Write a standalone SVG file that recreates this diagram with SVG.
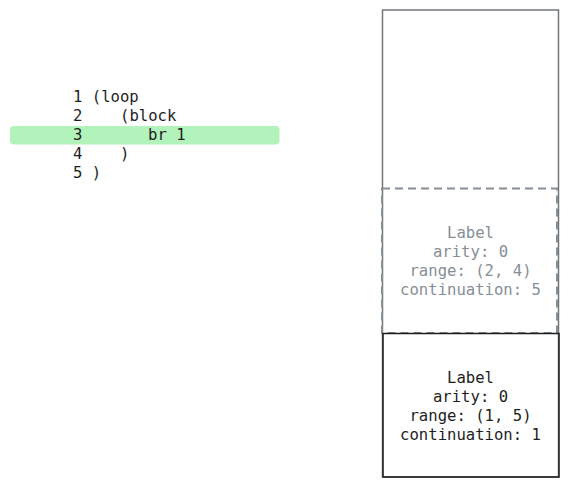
<svg xmlns="http://www.w3.org/2000/svg" width="569" height="488" viewBox="0 0 569 488">
<style>
.code{font-family:"DejaVu Sans Mono","Liberation Mono",monospace;font-size:15.6px;fill:#1e1e1e}
.lbl{font-family:"DejaVu Sans Mono","Liberation Mono",monospace;font-size:15.6px;text-anchor:middle}
.dim{fill:#868e96}
.dark{fill:#1e1e1e}
</style>
<rect width="569" height="488" fill="#ffffff"/>
<g id="code">
<rect id="highlight" x="10" y="126" width="269.5" height="18.5" rx="4" fill="#b2f2bb"/>
<text class="code" x="73" y="102">1</text><text class="code" x="91.8" y="102">(loop</text>
<text class="code" x="73" y="121">2</text><text class="code" x="120" y="121">(block</text>
<text class="code" x="73" y="140">3</text><text class="code" x="148.1" y="140">br 1</text>
<text class="code" x="73" y="159">4</text><text class="code" x="120" y="159">)</text>
<text class="code" x="73" y="178">5</text><text class="code" x="91.8" y="178">)</text>
</g>
<g id="stack">
<rect x="382.5" y="10" width="176" height="467" fill="none" stroke="#72777c" stroke-width="1.5"/>
</g>
<g id="label-dashed">
<rect x="382" y="188.5" width="175" height="144.5" fill="none" stroke="#868e96" stroke-width="2" stroke-dasharray="8 5"/>
<text class="lbl dim" x="470.5" y="237.5">Label</text>
<text class="lbl dim" x="470.5" y="256.7">arity: 0</text>
<text class="lbl dim" x="470.5" y="275.9">range: (2, 4)</text>
<text class="lbl dim" x="470.5" y="295.1">continuation: 5</text>
</g>
<g id="label-solid">
<rect x="383" y="333.5" width="176" height="143.5" fill="none" stroke="#1e1e1e" stroke-width="1.5"/>
<text class="lbl dark" x="470.5" y="382.7">Label</text>
<text class="lbl dark" x="470.5" y="401.8">arity: 0</text>
<text class="lbl dark" x="470.5" y="420.9">range: (1, 5)</text>
<text class="lbl dark" x="470.5" y="440">continuation: 1</text>
</g>
<g id="connectors"/>
</svg>
